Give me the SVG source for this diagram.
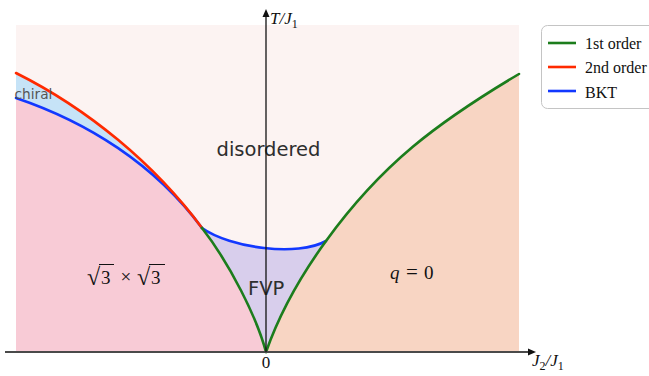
<svg xmlns="http://www.w3.org/2000/svg" width="649" height="376" viewBox="0 0 649 376">
<defs>
<style>
.curve{fill:none;stroke-width:2.6;stroke-linejoin:round;stroke-linecap:round}
.red{stroke:#ff2a00}
.blue{stroke:#1238ff}
.green{stroke:#1c7d1c}
.lbl{font-family:"DejaVu Sans",sans-serif;fill:#2e2e2e}
.math{font-family:"Liberation Serif","Times New Roman",serif;fill:#111}
.leg{font-family:"Liberation Serif","Times New Roman",serif;font-size:16px;fill:#111}
</style>
</defs>
<rect width="649" height="376" fill="#ffffff"/>
<g id="regions">
<rect id="disordered-bg" x="16" y="25" width="503" height="327" fill="#fcf3f2"/>
<path id="sqrt3-region" d="M16,98 C87,122 154.4,163.8 202,228 C230,264 257,318 266,352 L16,352 Z" fill="#f8cbd6"/>
<path id="chiral-region" d="M16,73 C87.6,108.8 154.4,163.8 202,228 C154.4,163.8 87,122 16,98 Z" fill="#c6e3f7"/>
<path id="fvp-region" d="M202,228 C230,248 298,257 326,241 C301.3,275 280,312 266,352 C257,318 230,264 202,228 Z" fill="#d8ceec"/>
<path id="q0-region" d="M266,352 C280,312 301.3,275 326,241 C381.8,164 437.3,122.5 519,74 L519,352 Z" fill="#f8d5c3"/>
</g>
<g id="connectors">
<path class="curve blue" d="M16,98 C87,122 154.4,163.8 202,228"/>
<path class="curve red" d="M16,73 C87.6,108.8 154.4,163.8 202,228"/>
<path class="curve blue" d="M202,228 C230,248 298,257 326,241"/>
<path class="curve green" d="M266,352 C257,318 230,264 202,228"/>
<path class="curve green" d="M266,352 C280,312 301.3,275 326,241 C381.8,164 437.3,122.5 519,74"/>
</g>
<g id="labels">
<text id="lbl-disordered" class="lbl" x="216.5" y="156" font-size="19.5">disordered</text>
<text id="lbl-chiral" class="lbl" x="14.5" y="99" font-size="13.7" style="fill:#555">chiral</text>
<text id="lbl-fvp" class="lbl" x="248" y="295" font-size="19.5">FVP</text>
<g id="lbl-sqrt3">
<text class="math" x="87" y="285" font-size="24">√</text>
<line x1="99" y1="264.5" x2="114" y2="264.5" stroke="#111" stroke-width="1"/>
<text class="math" x="101" y="284" font-size="19">3</text>
<text class="math" x="120.5" y="283" font-size="19">×</text>
<text class="math" x="137" y="285" font-size="24">√</text>
<line x1="149" y1="264.5" x2="165" y2="264.5" stroke="#111" stroke-width="1"/>
<text class="math" x="151" y="284" font-size="19">3</text>
</g>
<text id="lbl-q0" class="math" y="279" font-size="19"><tspan x="390" font-style="italic">q</tspan><tspan x="406" font-size="21">=</tspan><tspan x="424">0</tspan></text>
</g>
<g id="axes">
<line x1="5" y1="352" x2="530" y2="352" stroke="#4a4a4a" stroke-width="2"/>
<polygon points="536,352 528,348.5 528,355.5" fill="#111"/>
<line x1="266" y1="352" x2="266" y2="15" stroke="#111" stroke-width="1.3"/>
<polygon points="266,9 262.5,17 269.5,17" fill="#111"/>
<text class="math" x="270" y="24" font-size="17"><tspan font-style="italic">T</tspan><tspan font-style="italic">/J</tspan><tspan font-size="12" dy="4">1</tspan></text>
<text class="math" x="532" y="366" font-size="17"><tspan font-style="italic">J</tspan><tspan font-size="12" dy="4">2</tspan><tspan font-style="italic" dy="-4">/J</tspan><tspan font-size="12" dy="4">1</tspan></text>
<text class="math" x="266" y="368" font-size="17" text-anchor="middle">0</text>
</g>
<g id="legend">
<rect x="541.5" y="25.5" width="120" height="83" rx="6" fill="#ffffff" stroke="#c4c4c4" stroke-width="1"/>
<line class="green" x1="548" y1="43" x2="576" y2="43" stroke-width="2.6"/>
<text class="leg" x="585" y="48.5">1st order</text>
<line class="red" x1="548" y1="67" x2="576" y2="67" stroke-width="2.6"/>
<text class="leg" x="585" y="73">2nd order</text>
<line class="blue" x1="548" y1="91" x2="576" y2="91" stroke-width="2.6"/>
<text class="leg" x="585" y="97.5">BKT</text>
</g>
</svg>
